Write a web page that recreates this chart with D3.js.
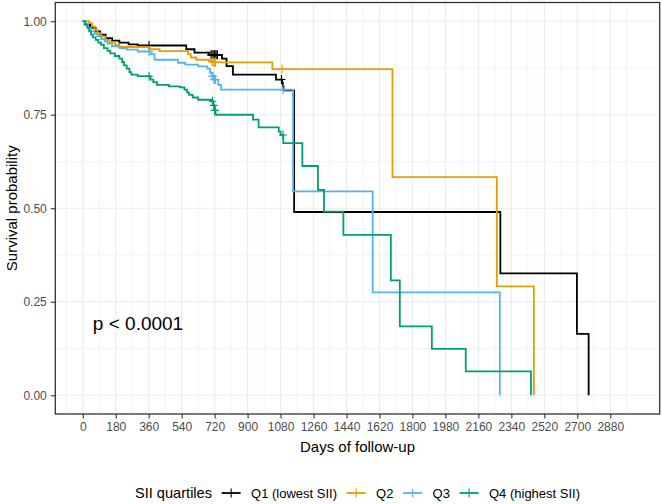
<!DOCTYPE html>
<html><head><meta charset="utf-8">
<script src="https://cdn.jsdelivr.net/npm/d3@7"></script>
<style>
html,body{margin:0;padding:0;background:#fff;}
svg{display:block;font-family:"Liberation Sans",Arial,sans-serif;}
</style></head>
<body>
<svg id="chart" width="662" height="504"></svg>
<script>
// ---- data ----
const groups = ["Q1 (lowest SII)", "Q2", "Q3", "Q4 (highest SII)"];
const groupColors = ["#000000", "#E69F00", "#56B4E9", "#009E73"];
const xTicks = [0,180,360,540,720,900,1080,1260,1440,1620,1800,1980,2160,2340,2520,2700,2880];
const yTicks = [0, 0.25, 0.5, 0.75, 1];
const yTickLabels = ["0.00", "0.25", "0.50", "0.75", "1.00"];

const q1Time = [0,15,40,70,95,125,160,200,250,300,565,610,690,760,785,820,1055,1088,1092,1096,1154,2280,2698,2762];
const q1Surv = [1.0,0.991,0.982,0.973,0.964,0.955,0.948,0.943,0.938,0.935,0.925,0.916,0.910,0.900,0.880,0.857,0.844,0.836,0.826,0.815,0.490,0.326,0.164,0.0];
const q1Censor = [362,700,705,712,718,722,728,735,1085];

const q2Time = [0,35,50,65,80,100,125,145,175,200,365,420,575,590,620,690,710,1035,1691,2261,2463];
const q2Surv = [1.0,0.995,0.986,0.977,0.968,0.959,0.950,0.944,0.937,0.931,0.925,0.920,0.912,0.903,0.897,0.893,0.890,0.872,0.583,0.291,0.0];
const q2Censor = [705,712,718,725,1088];

const q3Time = [0,15,30,45,65,80,100,120,135,160,200,240,300,370,392,520,560,630,680,695,705,715,740,755,1148,1583,2277];
const q3Surv = [1.0,0.991,0.982,0.973,0.966,0.960,0.952,0.946,0.940,0.933,0.928,0.924,0.919,0.912,0.897,0.889,0.884,0.879,0.873,0.862,0.853,0.844,0.830,0.817,0.545,0.275,0.0];
const q3Censor = [362,705,712,716,720,725,1093];

const q4Time = [0,10,25,35,45,55,70,85,100,115,135,150,175,200,215,225,240,255,265,300,370,385,405,470,530,555,570,580,600,630,700,712,720,725,930,960,1070,1080,1095,1199,1284,1317,1423,1682,1731,1906,2091,2447];
const q4Surv = [1.0,0.991,0.982,0.973,0.964,0.957,0.950,0.943,0.937,0.928,0.921,0.914,0.907,0.900,0.891,0.882,0.873,0.864,0.857,0.853,0.844,0.837,0.830,0.826,0.823,0.817,0.810,0.803,0.796,0.790,0.786,0.775,0.762,0.750,0.737,0.716,0.705,0.696,0.674,0.613,0.549,0.491,0.429,0.307,0.184,0.124,0.064,0.0];
const q4Censor = [362,708,715,720,722,1093];

const pValueText = "p < 0.0001";
const xTitle = "Days of follow-up";
const yTitle = "Survival probability";
const legendTitle = "SII quartiles";

// ---- layout ----
const svg = d3.select("#chart");
const panel = {left: 55.3, right: 659.7, top: 2.5, bottom: 414};
const xMax = 3000;
const x = d3.scaleLinear().domain([-0.05*xMax, 1.05*xMax]).range([panel.left, panel.right]);
const y = d3.scaleLinear().domain([-0.05, 1.05]).range([panel.bottom, panel.top]);

const series = [
  {time: q1Time, surv: q1Surv, censor: q1Censor},
  {time: q2Time, surv: q2Surv, censor: q2Censor},
  {time: q3Time, surv: q3Surv, censor: q3Censor},
  {time: q4Time, surv: q4Surv, censor: q4Censor}
];

// grid
const grid = svg.append("g");
const xMinor = d3.range(-90, 3061, 180);
const yMinor = [0.125, 0.375, 0.625, 0.875];
grid.selectAll(".xmin").data(xMinor).enter().append("line")
  .attr("x1", d => x(d)).attr("x2", d => x(d)).attr("y1", panel.top).attr("y2", panel.bottom)
  .attr("stroke", "#ebebeb").attr("stroke-width", 0.6);
grid.selectAll(".ymin").data(yMinor).enter().append("line")
  .attr("y1", d => y(d)).attr("y2", d => y(d)).attr("x1", panel.left).attr("x2", panel.right)
  .attr("stroke", "#ebebeb").attr("stroke-width", 0.6);
grid.selectAll(".xmaj").data(xTicks).enter().append("line")
  .attr("x1", d => x(d)).attr("x2", d => x(d)).attr("y1", panel.top).attr("y2", panel.bottom)
  .attr("stroke", "#ebebeb").attr("stroke-width", 1.1);
grid.selectAll(".ymaj").data(yTicks).enter().append("line")
  .attr("y1", d => y(d)).attr("y2", d => y(d)).attr("x1", panel.left).attr("x2", panel.right)
  .attr("stroke", "#ebebeb").attr("stroke-width", 1.1);

// curves
const line = d3.line().x(d => x(d[0])).y(d => y(d[1])).curve(d3.curveStepAfter);
function survAt(s, t) {
  let v = s.surv[0];
  for (let i = 0; i < s.time.length; i++) { if (s.time[i] <= t) v = s.surv[i]; }
  return v;
}
const curves = svg.append("g");
series.forEach((s, i) => {
  const pts = s.time.map((t, j) => [t, s.surv[j]]);
  curves.append("path").attr("d", line(pts)).attr("fill", "none")
    .attr("stroke", groupColors[i]).attr("stroke-width", 1.8);
  curves.selectAll(null).data(s.censor).enter().append("path")
    .attr("d", t => {
      const cx = x(t), cy = y(survAt(s, t));
      return `M${cx-4},${cy}H${cx+4}M${cx},${cy-4.5}V${cy+4.5}`;
    })
    .attr("stroke", groupColors[i]).attr("stroke-width", 1.1).attr("fill", "none");
});

// border
svg.append("rect").attr("x", panel.left).attr("y", panel.top)
  .attr("width", panel.right - panel.left).attr("height", panel.bottom - panel.top)
  .attr("fill", "none").attr("stroke", "#333333").attr("stroke-width", 1.3);

// axes
const xAxis = d3.axisBottom(x).tickValues(xTicks).tickSize(4.5).tickPadding(4).tickFormat(d3.format("d"));
const gx = svg.append("g").attr("transform", `translate(0,${panel.bottom})`).call(xAxis);
const yAxis = d3.axisLeft(y).tickValues(yTicks).tickSize(4.5).tickPadding(4).tickFormat((d, i) => yTickLabels[i]);
const gy = svg.append("g").attr("transform", `translate(${panel.left},0)`).call(yAxis);
[gx, gy].forEach(g => {
  g.select(".domain").remove();
  g.selectAll(".tick line").attr("stroke", "#333333").attr("stroke-width", 1.1);
  g.selectAll(".tick text").attr("fill", "#4d4d4d").attr("font-size", 12)
    .attr("font-family", "Liberation Sans, Arial, sans-serif");
});

// titles
svg.append("text").attr("x", (panel.left + panel.right)/2).attr("y", 452)
  .attr("text-anchor", "middle").attr("font-size", 15).text(xTitle);
svg.append("text").attr("transform", `translate(17,${(panel.top + panel.bottom)/2}) rotate(-90)`)
  .attr("text-anchor", "middle").attr("font-size", 15).text(yTitle);

// p value
svg.append("text").attr("x", x(55)).attr("y", 330).attr("font-size", 19).text(pValueText);

// legend
const leg = svg.append("g");
const legY = 493;
let cx = 0;
const lt = leg.append("text").attr("x", cx).attr("y", legY + 5).attr("font-size", 14.6).text(legendTitle);
cx += lt.node().getComputedTextLength() + 9.6;
groups.forEach((g, i) => {
  leg.append("path").attr("d", `M${cx},${legY}H${cx+19}`).attr("stroke", groupColors[i]).attr("stroke-width", 1.8);
  leg.append("path").attr("d", `M${cx+9.5},${legY-4.5}V${legY+4.5}`).attr("stroke", groupColors[i]).attr("stroke-width", 1.1);
  cx += 19 + 10.4;
  const t = leg.append("text").attr("x", cx).attr("y", legY + 4.5).attr("font-size", 13).text(g);
  cx += t.node().getComputedTextLength() + 9.7;
});
const legW = cx - 9.7;
leg.attr("transform", `translate(${(panel.left + panel.right)/2 - legW/2},0)`);
</script>
</body></html>
